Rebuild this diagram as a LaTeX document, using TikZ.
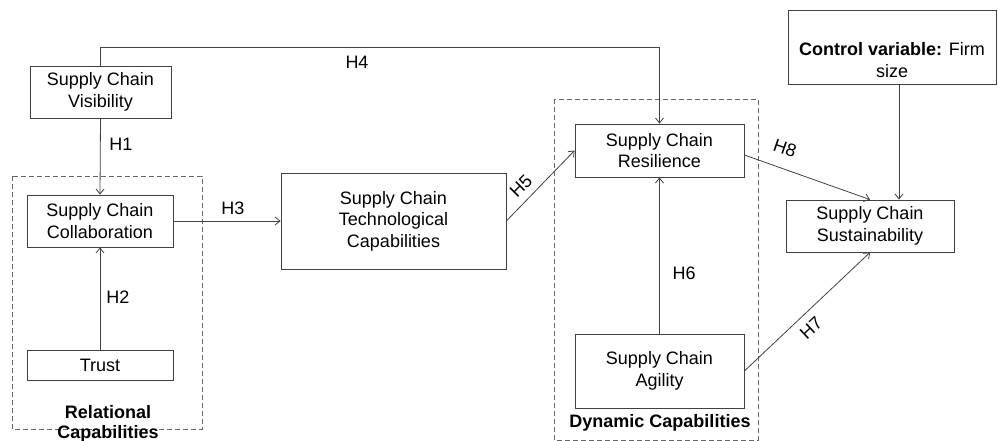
\documentclass[tikz,border=0pt]{standalone}
\usepackage{fontspec}
\setmainfont{Liberation Sans}
\usetikzlibrary{arrows.meta,calc}
\begin{document}
\begin{tikzpicture}[x=1pt,y=-1pt,
  lnc/.style={draw=black!75,line width=0.8pt},
  box/.style={lnc,fill=white,inner sep=0pt,align=center,font=\fontsize{18}{21.5}\selectfont},
  grp/.style={draw=black!60,line width=0.8pt,dash pattern=on 5pt off 3pt},
  arr/.style={lnc,-{Straight Barb[length=5pt,width=8pt]}},
  lab/.style={inner sep=0pt,font=\fontsize{18}{21.5}\selectfont},
  glab/.style={inner sep=0pt,align=center,font=\fontsize{18}{21.5}\selectfont\bfseries}]
\useasboundingbox (0,0) rectangle (998,441);
% group boxes
\draw[grp] (12,176) rectangle (202,429);
\draw[grp] (554,99) rectangle (758,440);
% nodes
\node[box,minimum width=141pt,minimum height=52pt] (vis) at (100.5,92) {Supply Chain\\Visibility};
\node[box,minimum width=146pt,minimum height=52pt] (col) at (100,221) {Supply Chain\\Collaboration};
\node[box,minimum width=146pt,minimum height=30pt] (trust) at (100,365) {Trust};
\node[box,minimum width=225pt,minimum height=96pt] (tech) at (393.5,221) {Supply Chain\\Technological\\Capabilities};
\node[box,minimum width=169pt,minimum height=53pt] (res) at (659.5,150.5) {Supply Chain\\Resilience};
\node[box,minimum width=169pt,minimum height=74pt] (agi) at (659.5,371) {Supply Chain\\Agility};
\node[box,minimum width=168pt,minimum height=52pt] (sus) at (870,226) {Supply Chain\\Sustainability};
\node[box,minimum width=208pt,minimum height=74pt] (ctrl) at (892,47) {};
\node[lab,align=center] (ctrltxt) at (892,60) {\textbf{Control variable:} Firm\\size};
% group labels
\node[glab] (relA) at (108,412) {Relational};
\node[glab] (relB) at (108,434) {Capabilities};
\node[glab] (dyn) at (660,423) {Dynamic Capabilities};
% connectors
\draw[arr] (vis.south) -- (col.north);
\draw[arr] (trust.north) -- (col.south);
\draw[arr] (col.east) -- (tech.west);
\draw[arr] (vis.north) -- ++(0,-18) -| (res.north);
\draw[arr] (tech.east) -- (res.west);
\draw[arr] (agi.north) -- (res.south);
\draw[arr] ($(res.east)+(0,4.5)$) -- (sus.north);
\draw[arr] (agi.east) -- (sus.south);
\coordinate (cs) at ($(ctrl.south)+(7,0)$);
\draw[arr] (cs) -- (cs |- sus.north);
% hypothesis labels
\node[lab] (h1) at (121,144) {H1};
\node[lab] (h2) at (118,297) {H2};
\node[lab] (h3) at (233,208) {H3};
\node[lab] (h4) at (357,62) {H4};
\node[lab,rotate=45] (h5) at (521,186) {H5};
\node[lab] (h6) at (684,273) {H6};
\node[lab,rotate=43] (h7) at (811,328) {H7};
\node[lab,rotate=-19] (h8) at (785,148) {H8};
\end{tikzpicture}
\end{document}
